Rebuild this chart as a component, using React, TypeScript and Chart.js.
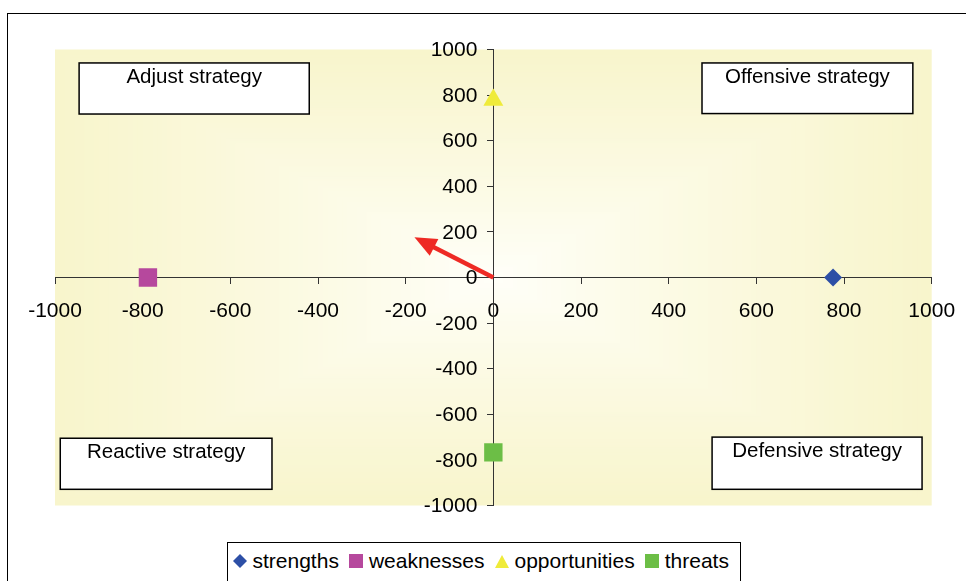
import React, { useEffect, useRef } from "react";
import { Chart, registerables } from "chart.js";

Chart.register(...registerables);

// ---- data ----
const TICK_VALUES = [-1000, -800, -600, -400, -200, 0, 200, 400, 600, 800, 1000];
const TICK_LABELS = ["-1000", "-800", "-600", "-400", "-200", "0", "200", "400", "600", "800", "1000"];
const SERIES_NAMES = ["strengths", "weaknesses", "opportunities", "threats"];
const STRENGTHS = [{ x: 775, y: 0 }];
const WEAKNESSES = [{ x: -788, y: 0 }];
const OPPORTUNITIES = [{ x: 0, y: 778 }];
const THREATS = [{ x: 0, y: -767 }];
const RESULT_VECTOR = [{ x: 0, y: 0 }, { x: -180, y: 176 }];
const QUADRANT_LABELS = ["Adjust strategy", "Offensive strategy", "Reactive strategy", "Defensive strategy"];

// ---- annotation layout (data coordinates) ----
const QUADRANT_BOXES = [
  { x0: -945, x1: -420, y0: 941, y1: 717 },
  { x0: 476, x1: 957, y0: 941, y1: 719 },
  { x0: -988, x1: -505, y0: -705, y1: -929 },
  { x0: 499, x1: 978, y0: -700, y1: -929 },
];

const COLORS = ["#2D4FA6", "#B6489D", "#EFEB3A", "#6CBE46"];
const ARROW_COLOR = "#EE2A24";
const FONT = "'Liberation Sans', Arial, sans-serif";
const BG_CENTER = [255, 255, 250];
const BG_EDGE = [248, 245, 204];

const labelFor = (v: number) => {
  const i = TICK_VALUES.indexOf(v);
  return i >= 0 ? TICK_LABELS[i] : String(v);
};

// rectangular "from centre" gradient fill of the plot area
const bgPlugin = {
  id: "bgGradient",
  beforeDraw(chart: any) {
    const { ctx, chartArea: a } = chart;
    const cx = (a.left + a.right) / 2;
    const cy = (a.top + a.bottom) / 2;
    const rx = (a.right - a.left) / 2;
    const ry = (a.bottom - a.top) / 2;
    ctx.save();
    const N = 90;
    for (let i = N; i >= 1; i--) {
      const t = i / N;
      const c = BG_CENTER.map((v, k) => Math.round(v + (BG_EDGE[k] - v) * Math.pow(t, 0.85)));
      ctx.fillStyle = `rgb(${c[0]},${c[1]},${c[2]})`;
      ctx.fillRect(cx - rx * t, cy - ry * t, 2 * rx * t, 2 * ry * t);
    }
    ctx.restore();
  },
};

const quadrantPlugin = {
  id: "quadrants",
  beforeDatasetsDraw(chart: any) {
    const { ctx, scales } = chart;
    const xs = scales.x;
    const ys = scales.y;
    ctx.save();
    QUADRANT_BOXES.forEach((b, i) => {
      const l = xs.getPixelForValue(b.x0);
      const r = xs.getPixelForValue(b.x1);
      const t = ys.getPixelForValue(b.y0);
      const btm = ys.getPixelForValue(b.y1);
      ctx.fillStyle = "#FFFFFF";
      ctx.fillRect(l, t, r - l, btm - t);
      ctx.strokeStyle = "#000000";
      ctx.lineWidth = 1.5;
      ctx.strokeRect(l, t, r - l, btm - t);
      ctx.fillStyle = "#000000";
      ctx.font = `20.5px ${FONT}`;
      ctx.textAlign = "center";
      ctx.textBaseline = "middle";
      ctx.fillText(QUADRANT_LABELS[i], (l + r) / 2, t + 14.5);
    });
    ctx.restore();
  },
};

// y-axis tick labels drawn to the left of the centred axis
const yLabelPlugin = {
  id: "yLabels",
  afterDraw(chart: any) {
    const { ctx, scales } = chart;
    const ys = scales.y;
    const axisX = scales.x.getPixelForValue(0);
    ctx.save();
    ctx.fillStyle = "#000";
    ctx.font = `21px ${FONT}`;
    ctx.textAlign = "right";
    ctx.textBaseline = "middle";
    ys.ticks.forEach((t: any) => {
      ctx.fillText(labelFor(t.value), axisX - 16, ys.getPixelForValue(t.value) + 1);
    });
    ctx.restore();
  },
};

const arrowPlugin = {
  id: "arrowHead",
  afterDatasetsDraw(chart: any) {
    const meta = chart.getDatasetMeta(4);
    if (!meta || meta.data.length < 2) return;
    const p0 = meta.data[0];
    const p1 = meta.data[1];
    const { ctx } = chart;
    const dx = p1.x - p0.x;
    const dy = p1.y - p0.y;
    const len = Math.hypot(dx, dy);
    const ux = dx / len;
    const uy = dy / len;
    const headLen = 22;
    const headHalf = 9.5;
    const bx = p1.x - ux * headLen;
    const by = p1.y - uy * headLen;
    ctx.save();
    ctx.strokeStyle = ARROW_COLOR;
    ctx.lineWidth = 4.5;
    ctx.beginPath();
    ctx.moveTo(p0.x, p0.y);
    ctx.lineTo(bx + ux * 3, by + uy * 3);
    ctx.stroke();
    ctx.fillStyle = ARROW_COLOR;
    ctx.beginPath();
    ctx.moveTo(p1.x, p1.y);
    ctx.lineTo(bx - uy * headHalf, by + ux * headHalf);
    ctx.lineTo(bx + uy * headHalf, by - ux * headHalf);
    ctx.closePath();
    ctx.fill();
    ctx.restore();
  },
};

const Marker = ({ i }: { i: number }) => {
  const c = COLORS[i];
  let shape;
  if (i === 0) shape = <polygon points="7,0 14,7 7,14 0,7" fill={c} />;
  else if (i === 2) shape = <polygon points="7,1 14,14 0,14" fill={c} />;
  else shape = <rect x="0" y="0" width="14" height="14" fill={c} />;
  return (
    <svg width="14" height="14" style={{ display: "block", marginRight: 5.5 }}>
      {shape}
    </svg>
  );
};

export default function App() {
  const ref = useRef<HTMLCanvasElement | null>(null);

  useEffect(() => {
    if (!ref.current) return;
    const tickFont = { family: FONT, size: 21 };
    const chart = new Chart(ref.current, {
      type: "scatter",
      data: {
        datasets: [
          {
            label: SERIES_NAMES[0],
            data: STRENGTHS,
            pointStyle: "rectRot",
            pointRadius: 9,
            backgroundColor: COLORS[0],
            borderColor: COLORS[0],
            borderWidth: 0,
          },
          {
            label: SERIES_NAMES[1],
            data: WEAKNESSES,
            pointStyle: "rect",
            pointRadius: 13,
            backgroundColor: COLORS[1],
            borderColor: COLORS[1],
            borderWidth: 0,
          },
          {
            label: SERIES_NAMES[2],
            data: OPPORTUNITIES,
            pointStyle: "triangle",
            pointRadius: 11.5,
            backgroundColor: COLORS[2],
            borderColor: COLORS[2],
            borderWidth: 0,
          },
          {
            label: SERIES_NAMES[3],
            data: THREATS,
            pointStyle: "rect",
            pointRadius: 13,
            backgroundColor: COLORS[3],
            borderColor: COLORS[3],
            borderWidth: 0,
          },
          {
            label: "result",
            data: RESULT_VECTOR,
            showLine: false,
            pointRadius: 0,
            borderColor: ARROW_COLOR,
            backgroundColor: ARROW_COLOR,
          },
        ],
      },
      options: {
        animation: false,
        responsive: false,
        events: [],
        layout: { padding: { left: 55, top: 49.5, right: 42.3, bottom: 75.5 } },
        plugins: {
          legend: { display: false },
          tooltip: { enabled: false },
        },
        scales: {
          x: {
            type: "linear",
            min: -1000,
            max: 1000,
            position: { y: 0 } as any,
            afterBuildTicks: (s: any) => {
              s.ticks = TICK_VALUES.map((v) => ({ value: v }));
            },
            ticks: {
              font: tickFont,
              color: "#000",
              maxRotation: 0,
              autoSkip: false,
              padding: 15.5,
              callback: (v: any) => labelFor(Number(v)),
            },
            grid: { drawOnChartArea: false, tickLength: 6, color: "#333" },
            border: { color: "#333", width: 1 },
          },
          y: {
            type: "linear",
            min: -1000,
            max: 1000,
            position: { x: 0 } as any,
            afterBuildTicks: (s: any) => {
              s.ticks = TICK_VALUES.map((v) => ({ value: v }));
            },
            ticks: {
              display: false,
              font: tickFont,
              autoSkip: false,
            },
            grid: { drawOnChartArea: false, tickLength: 6, color: "#333" },
            border: { color: "#333", width: 1 },
          },
        },
      },
      plugins: [bgPlugin, quadrantPlugin, arrowPlugin, yLabelPlugin],
    } as any);
    return () => chart.destroy();
  }, []);

  return (
    <div style={{ position: "fixed", left: 0, top: 0, width: 966, height: 581, overflow: "hidden", background: "#fff" }}>
      <div
        style={{
          position: "absolute",
          left: 7,
          top: 13,
          width: 2000,
          height: 2000,
          border: "1.6px solid #000",
          boxSizing: "border-box",
        }}
      />
      <canvas ref={ref} width={974} height={581} style={{ position: "absolute", left: 0, top: 0 }} />
      <div
        style={{
          position: "absolute",
          left: 227,
          top: 542,
          width: 514,
          height: 60,
          border: "1.5px solid #000",
          boxSizing: "border-box",
          background: "#fff",
          display: "flex",
          alignItems: "flex-start",
          paddingLeft: 5,
          paddingTop: 9,
          fontFamily: FONT,
          fontSize: 21,
          color: "#000",
        }}
      >
        {SERIES_NAMES.map((n, i) => (
          <div key={n} style={{ display: "flex", alignItems: "center", marginRight: 10.5, height: 18 }}>
            <Marker i={i} />
            <span style={{ lineHeight: "18px" }}>{n}</span>
          </div>
        ))}
      </div>
    </div>
  );
}
